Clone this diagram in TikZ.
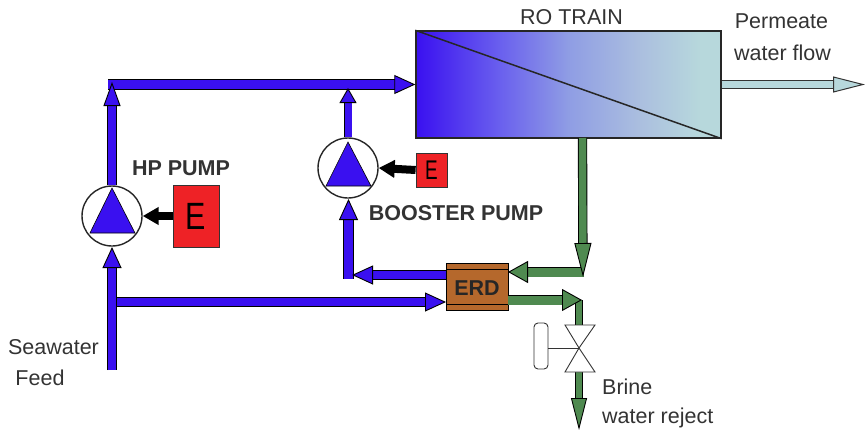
\documentclass[tikz,border=0pt]{standalone}
\usepackage{fontspec}
\setmainfont{Liberation Sans}
\usetikzlibrary{arrows.meta}
\definecolor{flowblue}{HTML}{3A10F0}
\definecolor{flowgreen}{HTML}{4F8A50}
\definecolor{palewater}{HTML}{B7D8DC}
\definecolor{midone}{HTML}{6A60EE}
\definecolor{midtwo}{HTML}{8F9DE4}
\definecolor{midthree}{HTML}{ABBFDF}
\definecolor{motorred}{HTML}{EE2226}
\definecolor{erdbrown}{HTML}{B5682C}
\definecolor{labelgrey}{HTML}{333333}
\pgfdeclarehorizontalshading{membrane}{100bp}{
  color(0bp)=(flowblue); color(25bp)=(flowblue); color(38.8bp)=(midone);
  color(50bp)=(midtwo); color(61.8bp)=(midthree); color(71.6bp)=(palewater); color(100bp)=(palewater)}
\tikzset{
  bluepipe/.style={draw=black, line width=0.9pt, double=flowblue, double distance=8.5pt, line join=miter,
    -{Triangle[length=21pt,width=19pt,fill=flowblue,line width=0.9pt]}},
  greenpipe/.style={draw=black, line width=0.9pt, double=flowgreen, double distance=9pt, line join=miter,
    -{Triangle[length=20pt,width=22pt,fill=flowgreen,line width=0.9pt]}},
  drivearrow/.style={line width=8pt, -{Triangle[length=16pt,width=17pt]}},
  pumpbody/.style={circle, draw=black!85, line width=1.4pt, fill=white, minimum size=60pt, inner sep=0pt},
  pumpblade/.style={draw=black, line width=0.6pt, fill=flowblue},
  motorbox/.style={rectangle, draw=black!80, line width=0.8pt, fill=motorred, inner sep=0pt},
  plainlabel/.style={text=labelgrey, font=\fontsize{21.5}{24}\selectfont, inner sep=0pt},
  boldlabel/.style={plainlabel, font=\fontsize{21.5}{24}\selectfont\bfseries},
}
\begin{document}
\begin{tikzpicture}[x=1pt,y=-1pt]
        \useasboundingbox (0,0) rectangle (865,434);

        % RO train
        \node[rectangle, draw=black!85, line width=1.4pt, shading=membrane,
              minimum width=305pt, minimum height=107pt, inner sep=0pt] (ro) at (568.5,84.5) {};
        \draw[line width=1.5pt, black!85] (ro.north west) -- (ro.south east);
        \node[plainlabel] (rotitle) at (571.5,17) {RO TRAIN};

        % pumps
        \node[pumpbody] (hp) at (112,216) {};
        \node[pumpbody] (booster) at (348,168) {};
        \filldraw[pumpblade] (112,188) -- (135,233) -- (90,233) -- cycle;
        \filldraw[pumpblade] (348,142) -- (371,186) -- (326,186) -- cycle;

        % motors
        \node[motorbox, minimum width=46pt, minimum height=62pt] (hpmotor) at (196,216)
            {\fontsize{38}{38}\selectfont\scalebox{0.8}[1]{E}};
        \node[motorbox, minimum width=31pt, minimum height=34pt] (boostermotor) at (431.5,170)
            {\fontsize{27}{27}\selectfont\scalebox{0.7}[1]{E}};
        \draw[drivearrow] (hpmotor.west) -- (hp.east);
        \draw[drivearrow] (boostermotor.west) -- (booster.east);

        % ERD
        \node[rectangle, draw=black, line width=1pt, fill=erdbrown, minimum width=62pt, minimum height=47pt,
              inner sep=0pt] (erd) at (477,286.5) {};
        \draw[line width=0.8pt] (446,269) -- (508,269);
        \draw[line width=0.8pt] (446,304) -- (508,304);
        \node[boldlabel, text=black!85] (erdname) at (477,288) {ERD};

        % free ends and bends
        \coordinate (feed) at (112,370);
        \coordinate (split) at (112,302);
        \coordinate (hpcorner) at (112,82);
        \coordinate (topstart) at (108,84.5);
        \coordinate (erdbluein) at (446,302);
        \coordinate (erdblueout) at (446,275);
        \coordinate (bluebend) at (348.5,279);
        \coordinate (permeate) at (865,84.5);
        \coordinate (rodrain) at (582.5,138);
        \coordinate (greenbend) at (583,277);
        \coordinate (greenback) at (584,272);
        \coordinate (erdgreenin) at (508,272);
        \coordinate (erdgreenout) at (508,300);
        \coordinate (greenside) at (582,300);
        \coordinate (valvetop) at (579,325);
        \coordinate (valvemid) at (579,348);
        \coordinate (valvelow) at (579,372);
        \coordinate (brine) at (579,430);

        % blue water
        \draw[bluepipe] (split) -- (erdbluein);
        \draw[bluepipe] (feed) -- (112,247);
        \draw[bluepipe] (topstart) -- (ro.west);
        \draw[bluepipe,-{Triangle[length=24pt,width=17pt,fill=flowblue,line width=0.9pt]},double distance=7.5pt] (hp.north) -- (hpcorner);
        \draw[bluepipe,-{Triangle[length=15pt,width=17pt,fill=flowblue,line width=0.9pt]},double distance=7pt] (booster.north) -- (348,88);
        \draw[bluepipe] (bluebend) -- (348.5,199);
        \draw[bluepipe] (erdblueout) -- (352,275);

        % permeate
        \draw[draw=black!80, line width=1pt, double=palewater, double distance=7pt,
              -{Triangle[length=32pt,width=16pt,fill=palewater,line width=1pt]}] (ro.east) -- (permeate);

        % brine side
        \draw[greenpipe] (greenback) -- (erdgreenin);
        \draw[greenpipe,-{Triangle[length=34pt,width=17pt,fill=flowgreen,line width=0.9pt]},double distance=7.5pt] (rodrain) -- (greenbend);
        \draw[draw=black, line width=0.9pt, double=flowgreen, double distance=6.5pt] (579,300) -- (valvetop);
        \draw[greenpipe] (erdgreenout) -- (greenside);
        \draw[greenpipe, -{Triangle[length=32pt,width=16pt,fill=flowgreen,line width=0.9pt]},
              double distance=6.5pt] (valvelow) -- (brine);

        % valve
        \filldraw[draw=black!80, line width=0.9pt, fill=white] (valvemid) -- (565,325) -- (595,325) -- cycle;
        \filldraw[draw=black!80, line width=0.9pt, fill=white] (valvemid) -- (565,372) -- (595,372) -- cycle;
        \node[rectangle, rounded corners=4pt, draw=black!80, line width=0.9pt, fill=white,
              minimum width=14pt, minimum height=46pt, inner sep=0pt] (handle) at (541,346) {};
        \draw[line width=0.7pt, black!80] (handle.east |- valvemid) -- (valvemid);

        % labels
        \node[boldlabel] (hplabel) at (181,168) {HP PUMP};
        \node[boldlabel] (boosterlabel) at (456,213) {BOOSTER PUMP};
        \node[plainlabel] (permeateone) at (781.5,21) {Permeate};
        \node[plainlabel] (permeatetwo) at (782.5,53) {water flow};
        \node[plainlabel] (seaone) at (53.5,347) {Seawater};
        \node[plainlabel] (seatwo) at (40,378) {Feed};
        \node[plainlabel,anchor=west] (brineone) at (602,387) {Brine};
        \node[plainlabel,anchor=west] (brinetwo) at (602,418) {water reject};

\end{tikzpicture}
\end{document}
